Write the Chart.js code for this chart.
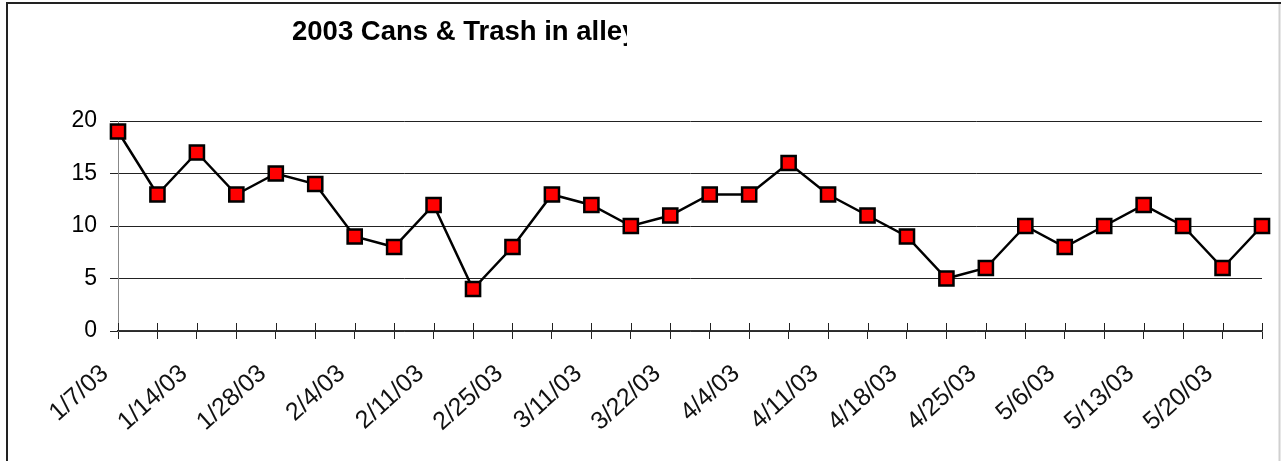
<!DOCTYPE html>
<html>
<head>
<meta charset="utf-8">
<title>2003 Cans & Trash in alley</title>
<script src="https://cdn.jsdelivr.net/npm/chart.js@4/dist/chart.umd.min.js"></script>
<style>
  html, body { margin: 0; padding: 0; background: #fff; }
  #wrap { width: 1281px; height: 461px; position: relative; }
</style>
</head>
<body>
<div id="wrap"><canvas id="cansChart"></canvas></div>
<script>
/* ---- data ---- */
// only every other date is printed on the axis, the rest are blank
const dateLabels = [
  "1/7/03", "", "1/14/03", "", "1/28/03", "", "2/4/03", "", "2/11/03", "",
  "2/25/03", "", "3/11/03", "", "3/22/03", "", "4/4/03", "", "4/11/03", "",
  "4/18/03", "", "4/25/03", "", "5/6/03", "", "5/13/03", "", "5/20/03", ""
];
const cansCount = [
  19, 13, 17, 13, 15, 14, 9, 8, 12, 4,
  8, 13, 12, 10, 11, 13, 13, 16, 13, 11,
  9, 5, 6, 10, 8, 10, 12, 10, 6, 10
];
const yTicks = [0, 5, 10, 15, 20];
const chartTitle = "2003 Cans & Trash in alley";

const FONT = "'Liberation Sans', Arial, Helvetica, sans-serif";

// frame round the picture + clipped title (title box is narrower than the text)
const framePlugin = {
  id: "frame",
  afterDraw(chart) {
    const ctx = chart.ctx;
    ctx.save();
    ctx.lineWidth = 2;
    ctx.strokeStyle = "#222";
    ctx.beginPath();
    ctx.moveTo(7, 461);
    ctx.lineTo(7, 3);
    ctx.lineTo(1281, 3);
    ctx.stroke();
    ctx.strokeStyle = "#d0d0d0";
    ctx.beginPath();
    ctx.moveTo(1279.5, 4);
    ctx.lineTo(1279.5, 461);
    ctx.stroke();

    ctx.beginPath();
    ctx.rect(280, 5, 347, 50);
    ctx.clip();
    ctx.fillStyle = "#000";
    ctx.font = "bold 27.5px " + FONT;
    ctx.textBaseline = "alphabetic";
    ctx.textAlign = "left";
    ctx.fillText(chartTitle, 292, 40);
    ctx.restore();
  },
  // cross ticks: the short marks also rise above the category axis
  afterDatasetsDraw(chart) {
    const xs = chart.scales.x;
    const ctx = chart.ctx;
    ctx.save();
    ctx.strokeStyle = "#222";
    ctx.lineWidth = 1;
    ctx.beginPath();
    xs.ticks.forEach((t, i) => {
      const px = Math.round(xs.getPixelForTick(i)) + 0.5;
      ctx.moveTo(px, xs.top - 8);
      ctx.lineTo(px, xs.top);
    });
    ctx.stroke();
    ctx.restore();
  }
};

const ctx = document.getElementById("cansChart");

new Chart(ctx, {
  type: "line",
  data: {
    labels: dateLabels,
    datasets: [{
      label: "Cans & Trash",
      data: cansCount,
      borderColor: "#000",
      borderWidth: 2.5,
      tension: 0,
      pointStyle: "rect",
      pointRadius: 10,
      pointHoverRadius: 10,
      pointBackgroundColor: "#ff0000",
      pointBorderColor: "#000",
      pointBorderWidth: 2.5
    }]
  },
  options: {
    responsive: true,
    maintainAspectRatio: false,
    animation: false,
    events: [],
    layout: { padding: { top: 121, right: 19, bottom: 0, left: 0 } },
    plugins: {
      legend: { display: false },
      title: { display: false },
      tooltip: { enabled: false }
    },
    scales: {
      x: {
        type: "category",
        offset: false,
        afterFit: (s) => {
          s.height = 130;
          s.paddingLeft = 0;
          s.paddingRight = 0;
        },
        grid: {
          display: true,
          drawOnChartArea: false,
          drawTicks: true,
          tickLength: 8,
          color: "#222",
          lineWidth: 1
        },
        border: { display: true, color: "#333", width: 1.5 },
        ticks: {
          autoSkip: false,
          minRotation: 42,
          maxRotation: 42,
          padding: 20,
          labelOffset: -13,
          color: "#111",
          font: { family: FONT, size: 25 }
        }
      },
      y: {
        min: 0,
        max: 20,
        afterFit: (s) => { s.width = 118; },
        afterBuildTicks: (s) => { s.ticks = yTicks.map((v) => ({ value: v })); },
        grid: {
          color: "#222",
          lineWidth: 1,
          drawTicks: true,
          tickLength: 8
        },
        border: { display: true, color: "#888", width: 1 },
        ticks: {
          padding: 13,
          color: "#000",
          font: { family: FONT, size: 23 }
        }
      }
    }
  },
  plugins: [framePlugin]
});
</script>
</body>
</html>
